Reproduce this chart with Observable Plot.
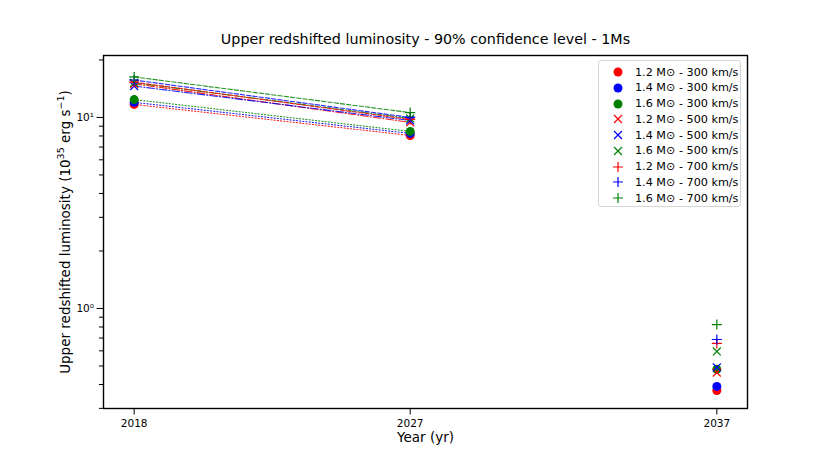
<!DOCTYPE html>
<html><head><meta charset="utf-8">
<script src="https://cdn.jsdelivr.net/npm/d3@7"></script>
<script src="https://cdn.jsdelivr.net/npm/@observablehq/plot@0.6"></script>
<style>
body{margin:0;background:#fff;}
#wrap{position:relative;width:830px;height:467px;font-family:"DejaVu Sans",sans-serif;}
#legend{position:absolute;left:598px;top:60px;width:143px;height:147px;border:1px solid #d6d6d6;border-radius:3px;background:rgba(255,255,255,0.8);box-sizing:border-box;}
.row{position:absolute;left:0;height:16px;display:flex;align-items:center;font-size:11.2px;color:#000;white-space:nowrap;}
.row svg{margin-left:12px;margin-right:10px;}
</style></head><body><div id="wrap"></div>
<script>
// ---- data ----
const years = [2018, 2027, 2037];
const masses = ["1.2", "1.4", "1.6"];
const speeds = [300, 500, 700];
const lum_12_300 = [11.7, 8.05, 0.372];
const lum_14_300 = [12.0, 8.25, 0.391];
const lum_16_300 = [12.4, 8.45, 0.480];
const lum_12_500 = [15.0, 9.42, 0.462];
const lum_14_500 = [14.6, 9.64, 0.491];
const lum_16_500 = [15.2, 9.88, 0.596];
const lum_12_700 = [15.3, 9.76, 0.656];
const lum_14_700 = [15.7, 10.0, 0.688];
const lum_16_700 = [16.3, 10.6, 0.824];
const yMajorTicks = [1, 10];
const yMinorTicks = [0.3, 0.4, 0.5, 0.6, 0.7, 0.8, 0.9, 2, 3, 4, 5, 6, 7, 8, 9, 20];
const xTicks = [2018, 2027, 2037];
const title = "Upper redshifted luminosity - 90% confidence level - 1Ms";
const xLabel = "Year (yr)";
const yLabelParts = ["Upper redshifted luminosity (10", "35", " erg s", "−1", ")"];
const yLabel = yLabelParts.join("");

const seriesValues = [
  [lum_12_300, lum_14_300, lum_16_300],
  [lum_12_500, lum_14_500, lum_16_500],
  [lum_12_700, lum_14_700, lum_16_700]
];

// ---- styles ----
const massColor = {"1.2": "#ff0000", "1.4": "#0000ff", "1.6": "#008000"};
const mplPlus = {draw(ctx, size) {const r = Math.sqrt(size / Math.PI); ctx.moveTo(-r, 0); ctx.lineTo(r, 0); ctx.moveTo(0, -r); ctx.lineTo(0, r);}};
const mplTimes = {draw(ctx, size) {const r = Math.sqrt(size / Math.PI) * 0.72; ctx.moveTo(-r, -r); ctx.lineTo(r, r); ctx.moveTo(-r, r); ctx.lineTo(r, -r);}};
const speedStyle = {
  300: {symbol: "circle", dash: "1.2,2", filled: true, r: 4.5},
  500: {symbol: mplTimes, dash: "7.7,1.9,1.2,1.9", filled: false, r: 5.5},
  700: {symbol: mplPlus, dash: "4.4,1.9", filled: false, r: 5}
};

const rows = [];
speeds.forEach((s, si) => masses.forEach((m, mi) => {
  const vals = seriesValues[si][mi];
  rows.push({mass: m, speed: s, data: years.map((yr, i) => ({year: yr, value: vals[i]}))});
}));

const marks = [];
rows.forEach(row => {
  const st = speedStyle[row.speed];
  marks.push(Plot.line(row.data.filter(d => d.year <= 2027), {x: "year", y: "value", stroke: massColor[row.mass], strokeWidth: 1.1, strokeOpacity: 0.85, strokeDasharray: st.dash}));
});
rows.forEach(row => {
  const st = speedStyle[row.speed];
  const c = massColor[row.mass];
  marks.push(Plot.dot(row.data, {x: "year", y: "value", symbol: st.symbol, r: st.r,
    fill: st.filled ? c : "none", stroke: st.filled ? "none" : c, strokeWidth: 1.2}));
});

const chart = Plot.plot({
  width: 830, height: 467,
  marginLeft: 103, marginRight: 83, marginTop: 55, marginBottom: 59,
  style: {fontFamily: "DejaVu Sans", fontSize: "10.5px", background: "white", color: "black"},
  x: {domain: [2017, 2038]},
  y: {type: "log", domain: [0.2995, 21.1]},
  marks: [
    ...marks,
    Plot.axisX(xTicks, {tickSize: 6.5, tickPadding: 5, tickFormat: d => String(d), label: null, fontSize: 10.5}),
    Plot.axisY(yMajorTicks, {tickSize: 6.5, tickPadding: 3, tickFormat: d => d === 1 ? "10⁰" : "10¹", label: null, fontSize: 10.5}),
    Plot.axisY(yMinorTicks, {tickSize: 4, tickFormat: () => "", label: null}),
    Plot.frame({stroke: "black", strokeWidth: 1.4}),
    Plot.text([title], {frameAnchor: "top", dy: -22, fontSize: 14.3, text: d => d}),
    Plot.text([xLabel], {frameAnchor: "bottom", dy: 33, fontSize: 13.5, text: d => d}),
    Plot.text([yLabel], {frameAnchor: "left", dx: -38, rotate: -90, textAnchor: "middle", fontSize: 13.5, text: d => d})
  ]
});
const wrap = document.getElementById("wrap");
wrap.appendChild(chart);

// real superscripts in the y label
d3.select(chart).selectAll("text").filter(function() { return this.textContent === yLabel; }).each(function() {
  const t = d3.select(this);
  t.text(null);
  t.append("tspan").text(yLabelParts[0]);
  t.append("tspan").attr("dy", "-5.5").attr("font-size", "9.5").text(yLabelParts[1]);
  t.append("tspan").attr("dy", "5.5").text(yLabelParts[2]);
  t.append("tspan").attr("dy", "-5.5").attr("font-size", "9.5").text(yLabelParts[3]);
  t.append("tspan").attr("dy", "5.5").text(yLabelParts[4]);
});

// ---- legend ----
const legend = document.createElement("div");
legend.id = "legend";
rows.forEach((row, i) => {
  const st = speedStyle[row.speed];
  const c = massColor[row.mass];
  const div = document.createElement("div");
  div.className = "row";
  div.style.top = (3 + i * 15.75) + "px";
  const svg = d3.create("svg").attr("width", 14).attr("height", 14);
  const sym = st.symbol === "circle" ? d3.symbolCircle : st.symbol;
  svg.append("path").attr("transform", "translate(7,7)")
    .attr("d", d3.symbol(sym, Math.PI * st.r * st.r)())
    .attr("fill", st.filled ? c : "none").attr("stroke", st.filled ? "none" : c).attr("stroke-width", 1.2);
  div.appendChild(svg.node());
  const span = document.createElement("span");
  span.textContent = row.mass + " M⊙ - " + row.speed + " km/s";
  div.appendChild(span);
  legend.appendChild(div);
});
wrap.appendChild(legend);
</script></body></html>
